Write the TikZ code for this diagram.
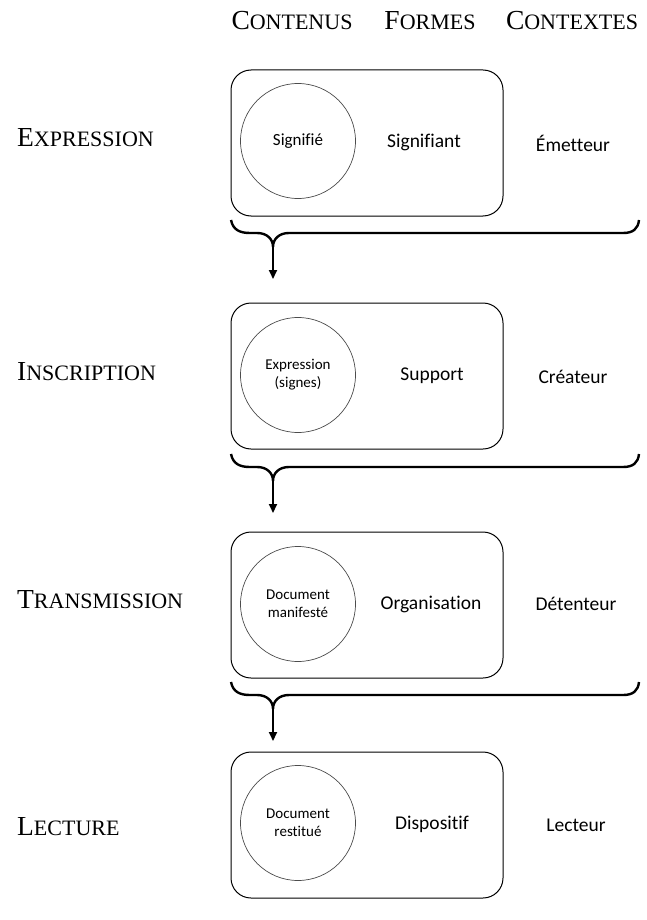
\documentclass[tikz,border=0pt]{standalone}
\usepackage{fontspec}
\setmainfont{Carlito}[Ligatures=NoCommon]
\newfontfamily\tnr{Liberation Serif}
\usetikzlibrary{arrows.meta}
\newcommand\mysc[2]{{\tnr\fontsize{27.5}{30}\selectfont #1\fontsize{22}{24}\selectfont #2}}
\begin{document}
\begin{tikzpicture}[x=1pt,y=-1pt,
  box/.style={draw=black, line width=1pt, rounded corners=20pt, minimum width=272pt, minimum height=146pt, inner sep=0pt},
  circ/.style={circle, draw=black!70, line width=0.7pt, minimum size=115pt, inner sep=0pt, align=center, font=\fontsize{15}{18}\selectfont},
  mid/.style={font=\fontsize{19.5}{22}\selectfont, inner sep=0pt},
  rowlab/.style={anchor=base west, inner sep=0pt},
  head/.style={anchor=base, inner sep=0pt},
  brace/.style={line width=2.4pt},
  flow/.style={line width=2pt, -{Triangle[width=8pt,length=9pt]}}]
\useasboundingbox (0,0) rectangle (646,920);

% headers
\node[head] (hc) at (292,30) {\mysc{C}{ONTENUS}};
\node[head] (hf) at (430,30) {\mysc{F}{ORMES}};
\node[head] (hx) at (572,30) {\mysc{C}{ONTEXTES}};

% row labels
\node[rowlab] (r1) at (17,147) {\mysc{E}{XPRESSION}};
\node[rowlab] (r2) at (17,380) {\mysc{I}{NSCRIPTION}};
\node[rowlab] (r3) at (17,608) {\mysc{T}{RANSMISSION}};
\node[rowlab] (r4) at (17,835) {\mysc{L}{ECTURE}};

% boxes
\node[box] (b1) at (367,143) {};
\node[box] (b2) at (367,376) {};
\node[box] (b3) at (367,605) {};
\node[box] (b4) at (367,825) {};

% circles
\node[circ, font=\fontsize{17}{20}\selectfont] (c1) at (298,141) {Signifié};
\node[circ] (c2) at (298,375) {Expression\\(signes)};
\node[circ] (c3) at (298,604) {Document\\manifesté};
\node[circ] (c4) at (298,823) {Document\\restitué};

% forms
\node[mid] (f1) at (424,142) {Signifiant};
\node[mid] (f2) at (432,376) {Support};
\node[mid] (f3) at (431,604) {Organisation};
\node[mid] (f4) at (432,824) {Dispositif};

% contexts
\node[mid] (x1) at (573,143) {Émetteur};
\node[mid] (x2) at (573,377) {Créateur};
\node[mid] (x3) at (576,604) {Détenteur};
\node[mid] (x4) at (576,825) {Lecteur};

% braces and arrows
\foreach \t/\n in {220/1,454/2,682/3}{
  \draw[brace] (231,\t) .. controls (233,\t+10) and (240,\t+13) .. (250,\t+13)
     -- (257,\t+13) .. controls (267,\t+13) and (273,\t+19) .. (273,\t+27)
     .. controls (273,\t+19) and (279,\t+13) .. (289,\t+13)
     -- (623,\t+13) .. controls (633,\t+13) and (638,\t+9) .. (639,\t);
  \coordinate (cusp\n) at (273,\t+26);
  \coordinate (tip\n) at (273,\t+59);
  \draw[flow] (cusp\n) -- (tip\n);
}
\end{tikzpicture}
\end{document}
